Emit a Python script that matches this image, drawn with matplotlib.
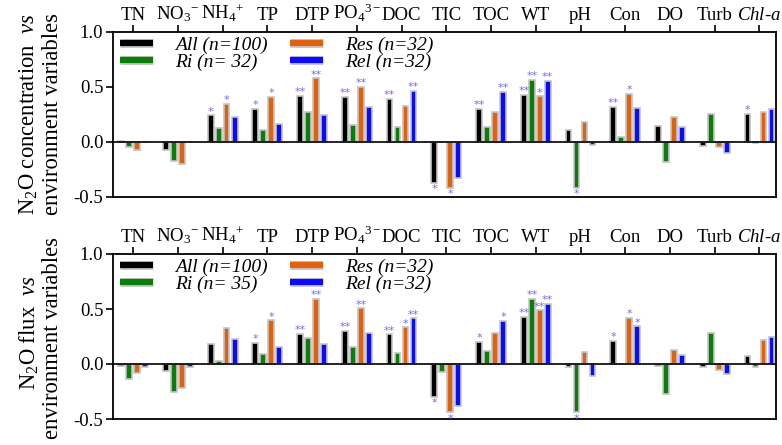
import matplotlib
matplotlib.use("Agg")
import matplotlib.pyplot as plt
import numpy as np
from matplotlib.lines import Line2D
import matplotlib.patheffects as pe

plt.rcParams['font.family'] = ['Liberation Serif', 'DejaVu Serif']
plt.rcParams['mathtext.fontset'] = 'custom'
plt.rcParams['mathtext.rm'] = 'Liberation Serif'
plt.rcParams['mathtext.it'] = 'Liberation Serif:italic'
plt.rcParams['mathtext.bf'] = 'Liberation Serif:bold'

categories = ['TN', r'NO$_3$$^{-}$', r'NH$_4$$^{+}$', 'TP', 'DTP', r'PO$_4$$^{3-}$', 'DOC',
              'TIC', 'TOC', 'WT', 'pH', 'Con', 'DO', 'Turb', r'$Chl$-$a$']

series_names = ['All', 'Ri', 'Res', 'Rel']
colors = ['#000000', '#0b7d0b', '#e0620f', '#0a0aff']
star_color = '#6f6ff2'

# Panel 1: N2O concentration
conc_all = [0.005, -0.075, 0.242, 0.303, 0.421, 0.412, 0.39, -0.373, 0.303, 0.427, 0.112, 0.318, 0.148, -0.036, 0.258]
conc_ri  = [-0.045, -0.175, 0.127, 0.112, 0.276, 0.152, 0.133, 0.0, 0.136, 0.567, -0.418, 0.045, -0.185, 0.258, -0.005]
conc_res = [-0.07, -0.197, 0.345, 0.41, 0.579, 0.50, 0.324, -0.418, 0.27, 0.415, 0.182, 0.436, 0.224, -0.048, 0.276]
conc_rel = [0.0, 0.0, 0.224, 0.16, 0.248, 0.321, 0.464, -0.327, 0.455, 0.558, -0.024, 0.309, 0.136, -0.10, 0.30]
conc_sig_all = ['', '', '*', '*', '**', '**', '**', '*', '**', '**', '', '**', '', '', '*']
conc_sig_ri  = ['', '', '', '', '', '', '', '', '', '**', '*', '', '', '', '']
conc_sig_res = ['', '', '*', '*', '**', '**', '', '*', '', '*', '', '*', '', '', '']
conc_sig_rel = ['', '', '', '', '', '', '**', '', '**', '**', '', '', '', '', '']
conc_legend = ['All (n=100)', 'Ri (n= 32)', 'Res (n=32)', 'Rel (n=32)']

# Panel 2: N2O flux
flux_all = [-0.02, -0.06, 0.179, 0.19, 0.273, 0.30, 0.27, -0.30, 0.20, 0.43, -0.03, 0.212, -0.02, -0.027, 0.07]
flux_ri  = [-0.133, -0.25, 0.03, 0.094, 0.233, 0.152, 0.10, -0.076, 0.115, 0.59, -0.44, 0.0, -0.276, 0.282, -0.027]
flux_res = [-0.079, -0.215, 0.327, 0.397, 0.59, 0.506, 0.333, -0.44, 0.282, 0.488, 0.106, 0.418, 0.127, -0.055, 0.218]
flux_rel = [-0.024, -0.024, 0.23, 0.152, 0.185, 0.282, 0.415, -0.379, 0.39, 0.548, -0.106, 0.342, 0.079, -0.088, 0.245]
flux_sig_all = ['', '', '', '*', '**', '**', '**', '*', '*', '**', '', '*', '', '', '']
flux_sig_ri  = ['', '', '', '', '', '', '', '', '', '**', '*', '', '', '', '']
flux_sig_res = ['', '', '', '*', '**', '**', '*', '*', '', '**', '', '*', '', '', '']
flux_sig_rel = ['', '', '', '', '', '', '**', '', '*', '**', '', '*', '', '', '']
flux_legend = ['All (n=100)', 'Ri (n= 35)', 'Res (n=32)', 'Rel (n=32)']

yticks = [-0.5, 0.0, 0.5, 1.0]
ytick_labels = ['-0.5', '0.0', '0.5', '1.0']

W, H = 782, 445
fig = plt.figure(figsize=(W / 100, H / 100), dpi=100)

def px_axes(x0, y0, x1, y1):
    return fig.add_axes([x0 / W, 1 - y1 / H, (x1 - x0) / W, (y1 - y0) / H])

ax1 = px_axes(113, 32, 776, 197)
ax2 = px_axes(113, 254, 776, 419)

offsets = [-0.268, -0.089, 0.089, 0.268]
bw = 0.13

def draw(ax, data, sigs, legend_labels, leg_y):
    x = np.arange(len(categories))
    for k, (vals, sg) in enumerate(zip(data, sigs)):
        xs = x + offsets[k]
        ax.bar(xs, vals, width=bw, color=colors[k], edgecolor='#c4c4c4',
               linewidth=1.2, zorder=3)
        for xi, v, s in zip(xs, vals, sg):
            if not s:
                continue
            if v >= 0:
                ax.annotate(s, (xi, v), xytext=(0, -1.0), textcoords='offset points',
                            ha='center', va='bottom', fontsize=8, color=star_color,
                            family='DejaVu Sans', zorder=4)
            else:
                ax.annotate(s, (xi, v), xytext=(0, -1), textcoords='offset points',
                            ha='center', va='top', fontsize=8, color=star_color,
                            family='DejaVu Sans', zorder=4)
    ax.axhline(0, color='black', lw=1.2, zorder=4)
    ax.set_xlim(-0.45, 14.37)
    ax.set_ylim(-0.5, 1.0)
    ax.set_yticks(yticks)
    ax.set_yticklabels(ytick_labels, fontsize=13.5)
    ax.xaxis.tick_top()
    ax.set_xticks(x)
    ax.set_xticklabels(categories, fontsize=13.5)
    ax.tick_params(axis='x', direction='out', length=5, width=1.2, pad=1)
    ax.tick_params(axis='y', direction='out', length=5, width=1.2, pad=2)
    for sp in ax.spines.values():
        sp.set_linewidth(1.3)
    handles = [Line2D([0], [0], color=colors[k], lw=4.5, solid_capstyle='butt',
                      path_effects=[pe.Stroke(linewidth=6.5, foreground='#c8c8c8'), pe.Normal()])
               for k in range(4)]
    ax.legend(handles, legend_labels, ncol=2, loc='upper left',
              bbox_to_anchor=(7 / 663, leg_y), frameon=False,
              prop={'family': 'Liberation Serif', 'style': 'italic', 'size': 14},
              handlelength=1.7, handletextpad=1.13, columnspacing=1.13,
              labelspacing=0.0, borderpad=0.0, borderaxespad=0.0)

data1 = [conc_all, conc_ri, conc_res, conc_rel]
sig1 = [conc_sig_all, conc_sig_ri, conc_sig_res, conc_sig_rel]
data2 = [flux_all, flux_ri, flux_res, flux_rel]
sig2 = [flux_sig_all, flux_sig_ri, flux_sig_res, flux_sig_rel]

draw(ax1, data1, sig1, conc_legend, 1 - 4 / 165)
draw(ax2, data2, sig2, flux_legend, 1 - 4 / 165)

fs_lab = 16.3
fig.text(29 / W, 1 - 114 / H, r'N$_2$O concentration  $vs$', rotation=90,
         ha='center', va='center', fontsize=fs_lab)
fig.text(53 / W, 1 - 114 / H, 'environment variables', rotation=90,
         ha='center', va='center', fontsize=fs_lab)
fig.text(29 / W, 1 - 333 / H, r'N$_2$O flux  $vs$', rotation=90,
         ha='center', va='center', fontsize=fs_lab)
fig.text(53 / W, 1 - 338 / H, 'environment variables', rotation=90,
         ha='center', va='center', fontsize=fs_lab)

fig.savefig('out.png', dpi=100)
